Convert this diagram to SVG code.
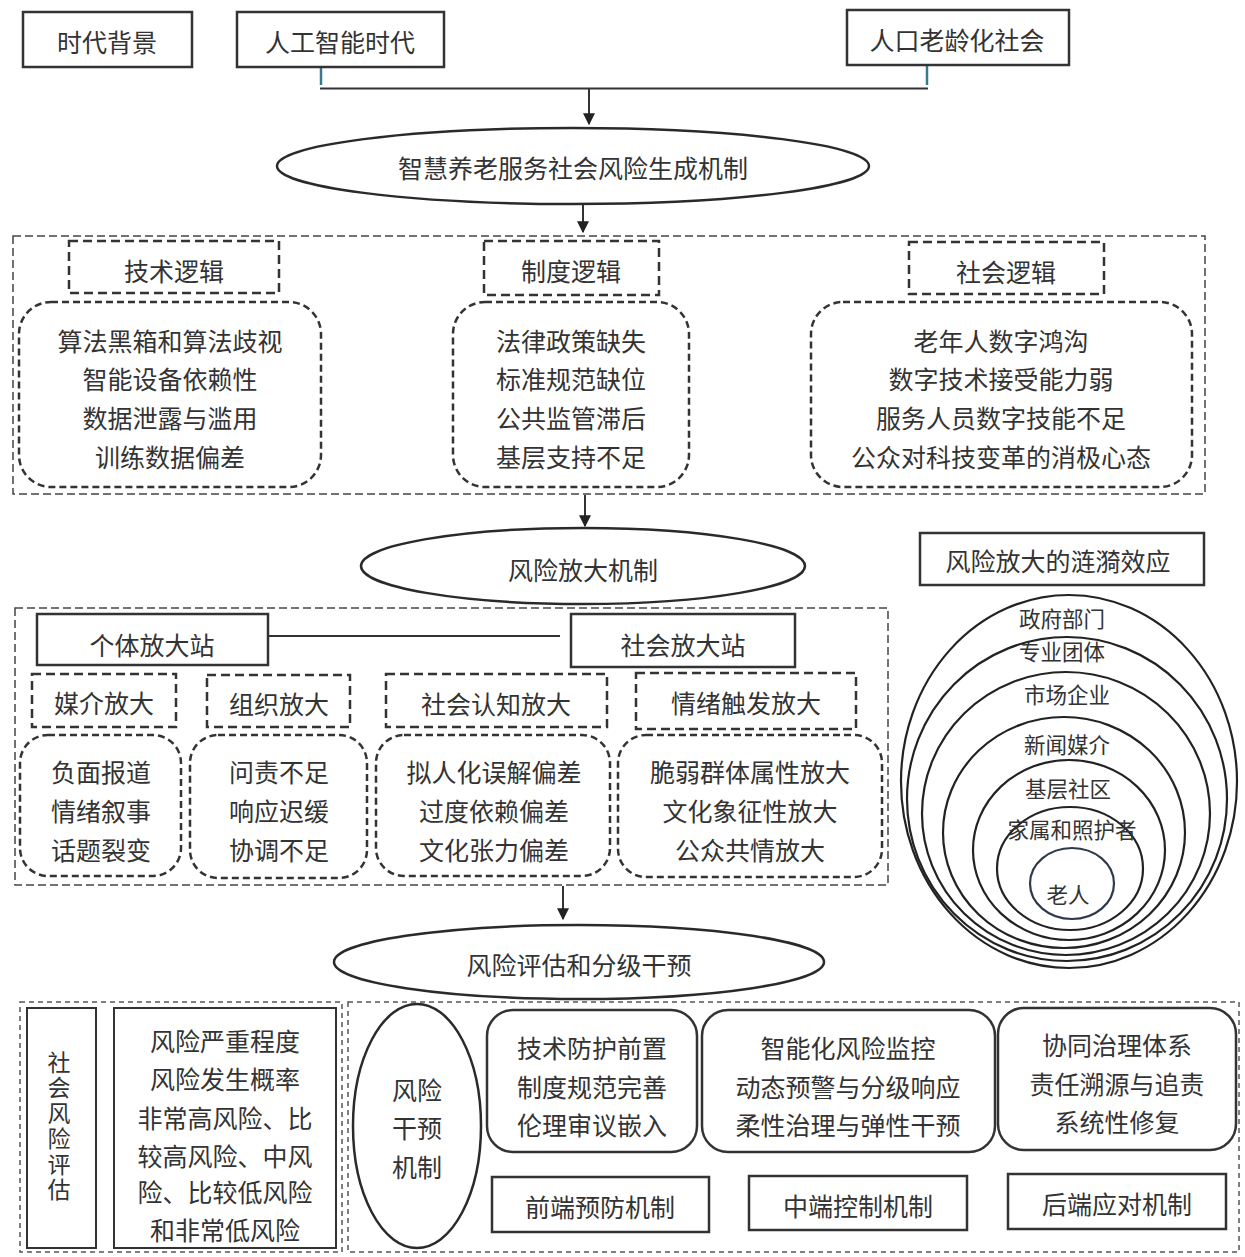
<svg xmlns="http://www.w3.org/2000/svg" width="1245" height="1257" viewBox="0 0 1245 1257">
<style>
text{font-family:"Noto Sans CJK SC","Noto Sans",sans-serif;fill:#333;text-anchor:middle;dominant-baseline:central;font-size:25px}
.sm{font-size:21.5px}
.vt{font-size:23px;writing-mode:vertical-rl;letter-spacing:2.5px}
.box{fill:#fff;stroke:#333;stroke-width:2.5}
.ell{fill:#fff;stroke:#2a2a2a;stroke-width:2.5}
.outer{fill:none;stroke:#444;stroke-width:1.5;stroke-dasharray:8 4}
.outer2{fill:none;stroke:#555;stroke-width:1.5;stroke-dasharray:5 4}
.hdr{fill:#fff;stroke:#333;stroke-width:2.5;stroke-dasharray:9 5}
.rd{fill:#fff;stroke:#333;stroke-width:2.5;stroke-dasharray:7 4}
.rs{fill:#fff;stroke:#333;stroke-width:2.5}
.ln{stroke:#333;stroke-width:2;fill:none}
.tick{stroke:#3b7890;stroke-width:2.5}
.rip{fill:none;stroke:#222;stroke-width:2.2}
</style>
<defs>
<marker id="ah" viewBox="0 0 10 10" refX="9" refY="5" markerWidth="6" markerHeight="6" orient="auto">
<path d="M0,0 L10,5 L0,10 z" fill="#222"/>
</marker>
</defs>
<rect width="1245" height="1257" fill="#fff"/>

<g id="connectors">
<line class="tick" x1="321" y1="66" x2="321" y2="85"/>
<line class="tick" x1="927" y1="65" x2="927" y2="85"/>
<line class="ln" x1="320" y1="88.5" x2="928" y2="88.5"/>
<line class="ln" x1="589" y1="88" x2="589" y2="124" marker-end="url(#ah)"/>
<line class="ln" x1="583" y1="205" x2="583" y2="232" marker-end="url(#ah)"/>
<line class="ln" x1="585" y1="495" x2="585" y2="526" marker-end="url(#ah)"/>
<line class="ln" x1="268" y1="636" x2="560" y2="636"/>
<line class="ln" x1="563" y1="886" x2="563" y2="919" marker-end="url(#ah)"/>
</g>

<g id="n-era"><rect class="box" x="23" y="12" width="169" height="55"/><text x="107" y="41">时代背景</text></g>
<g id="n-ai"><rect class="box" x="237" y="12" width="207" height="55"/><text x="340" y="41">人工智能时代</text></g>
<g id="n-aging"><rect class="box" x="847" y="10" width="222" height="55"/><text x="957" y="39">人口老龄化社会</text></g>

<g id="n-gen"><ellipse class="ell" cx="573" cy="166" rx="296" ry="38"/><text x="573" y="167">智慧养老服务社会风险生成机制</text></g>

<g id="grp-logic"><rect class="outer" x="13" y="236" width="1192" height="258"/></g>
<g id="n-tech-h"><rect class="hdr" x="69" y="241" width="210" height="52"/><text x="174" y="270">技术逻辑</text></g>
<g id="n-inst-h"><rect class="hdr" x="484" y="241" width="175" height="54"/><text x="571" y="270">制度逻辑</text></g>
<g id="n-soc-h"><rect class="hdr" x="909" y="242" width="195" height="52"/><text x="1006" y="271">社会逻辑</text></g>
<g id="n-tech"><rect class="rd" x="19" y="302" width="302" height="185" rx="32"/>
<text x="170" y="340">算法黑箱和算法歧视</text><text x="170" y="378">智能设备依赖性</text><text x="170" y="417">数据泄露与滥用</text><text x="170" y="456">训练数据偏差</text></g>
<g id="n-inst"><rect class="rd" x="453" y="302" width="236" height="185" rx="32"/>
<text x="571" y="340">法律政策缺失</text><text x="571" y="378">标准规范缺位</text><text x="571" y="417">公共监管滞后</text><text x="571" y="456">基层支持不足</text></g>
<g id="n-soc"><rect class="rd" x="811" y="302" width="381" height="185" rx="32"/>
<text x="1001" y="340">老年人数字鸿沟</text><text x="1001" y="378">数字技术接受能力弱</text><text x="1001" y="417">服务人员数字技能不足</text><text x="1001" y="456">公众对科技变革的消极心态</text></g>

<g id="n-amp"><ellipse class="ell" cx="583" cy="566" rx="222" ry="38"/><text x="583" y="569">风险放大机制</text></g>

<g id="n-ripple-title"><rect class="box" x="920" y="533" width="284" height="52"/><text x="1058" y="560">风险放大的涟漪效应</text></g>

<g id="grp-amp"><rect class="outer" x="15" y="608" width="873" height="277"/></g>
<g id="n-ind"><rect class="box" x="37" y="614" width="231" height="51"/><text x="152" y="644">个体放大站</text></g>
<g id="n-socst"><rect class="box" x="571" y="614" width="224" height="53"/><text x="683" y="644">社会放大站</text></g>
<g id="n-media-h"><rect class="hdr" x="32" y="674" width="144" height="53"/><text x="104" y="702">媒介放大</text></g>
<g id="n-org-h"><rect class="hdr" x="207" y="675" width="143" height="52"/><text x="279" y="703">组织放大</text></g>
<g id="n-cog-h"><rect class="hdr" x="386" y="674" width="221" height="53"/><text x="496" y="703">社会认知放大</text></g>
<g id="n-emo-h"><rect class="hdr" x="636" y="673" width="220" height="56"/><text x="746" y="702">情绪触发放大</text></g>
<g id="n-media"><rect class="rd" x="20" y="735" width="161" height="141" rx="28"/>
<text x="101" y="771">负面报道</text><text x="101" y="810">情绪叙事</text><text x="101" y="849">话题裂变</text></g>
<g id="n-org"><rect class="rd" x="190" y="735" width="177" height="143" rx="28"/>
<text x="279" y="771">问责不足</text><text x="279" y="810">响应迟缓</text><text x="279" y="849">协调不足</text></g>
<g id="n-cog"><rect class="rd" x="376" y="735" width="234" height="141" rx="28"/>
<text x="494" y="771">拟人化误解偏差</text><text x="494" y="810">过度依赖偏差</text><text x="494" y="849">文化张力偏差</text></g>
<g id="n-emo"><rect class="rd" x="618" y="735" width="264" height="142" rx="28"/>
<text x="750" y="771">脆弱群体属性放大</text><text x="750" y="810">文化象征性放大</text><text x="750" y="849">公众共情放大</text></g>

<g id="n-ripple">
<ellipse class="rip" cx="1069" cy="781.5" rx="168" ry="186.5"/>
<ellipse class="rip" cx="1067" cy="799" rx="160" ry="162"/>
<ellipse class="rip" cx="1066" cy="813.5" rx="144" ry="141.5"/>
<ellipse class="rip" cx="1064" cy="832.5" rx="121" ry="115.5"/>
<ellipse class="rip" cx="1069" cy="850" rx="96" ry="90"/>
<ellipse class="rip" cx="1070" cy="868.5" rx="73" ry="61.5"/>
<ellipse class="rip" cx="1072" cy="883.5" rx="42" ry="35.5" style="stroke:#2e3a4c"/>
<text class="sm" x="1062" y="617">政府部门</text>
<text class="sm" x="1062" y="650">专业团体</text>
<text class="sm" x="1067" y="693">市场企业</text>
<text class="sm" x="1067" y="743">新闻媒介</text>
<text class="sm" x="1068" y="787">基层社区</text>
<text class="sm" x="1072" y="828">家属和照护者</text>
<text class="sm" x="1068" y="893">老人</text>
</g>

<g id="n-assess"><ellipse class="ell" cx="579" cy="962" rx="245" ry="37"/><text x="579" y="964">风险评估和分级干预</text></g>

<g id="grp-eval"><rect class="outer2" x="20" y="1002" width="322" height="250"/></g>
<g id="grp-int"><rect class="outer2" x="348" y="1002" width="891" height="250"/></g>
<g id="n-eval-title"><rect class="box" x="27" y="1008" width="69" height="240" style="stroke-width:2"/>
<text class="vt" x="59" y="1127">社会风险评估</text></g>
<g id="n-eval"><rect class="box" x="114" y="1008" width="222" height="240" style="stroke-width:2"/>
<text x="225" y="1040">风险严重程度</text><text x="225" y="1078">风险发生概率</text><text x="225" y="1117">非常高风险、比</text><text x="225" y="1155">较高风险、中风</text><text x="225" y="1191">险、比较低风险</text><text x="225" y="1229">和非常低风险</text></g>
<g id="n-int"><ellipse class="ell" cx="417" cy="1126" rx="64" ry="122"/>
<text x="417" y="1089">风险</text><text x="417" y="1127">干预</text><text x="417" y="1166">机制</text></g>
<g id="n-front"><rect class="rs" x="487" y="1010" width="210" height="142" rx="26"/>
<text x="592" y="1047">技术防护前置</text><text x="592" y="1086">制度规范完善</text><text x="592" y="1124">伦理审议嵌入</text></g>
<g id="n-mid"><rect class="rs" x="702" y="1010" width="293" height="142" rx="26"/>
<text x="848" y="1047">智能化风险监控</text><text x="848" y="1086">动态预警与分级响应</text><text x="848" y="1124">柔性治理与弹性干预</text></g>
<g id="n-back"><rect class="rs" x="998" y="1008" width="238" height="142" rx="26"/>
<text x="1117" y="1044">协同治理体系</text><text x="1117" y="1083">责任溯源与追责</text><text x="1117" y="1121">系统性修复</text></g>
<g id="n-front-l"><rect class="box" x="492" y="1177" width="217" height="55"/><text x="600" y="1206">前端预防机制</text></g>
<g id="n-mid-l"><rect class="box" x="749" y="1176" width="218" height="54"/><text x="858" y="1205">中端控制机制</text></g>
<g id="n-back-l"><rect class="box" x="1008" y="1174" width="218" height="55"/><text x="1117" y="1203">后端应对机制</text></g>
</svg>
